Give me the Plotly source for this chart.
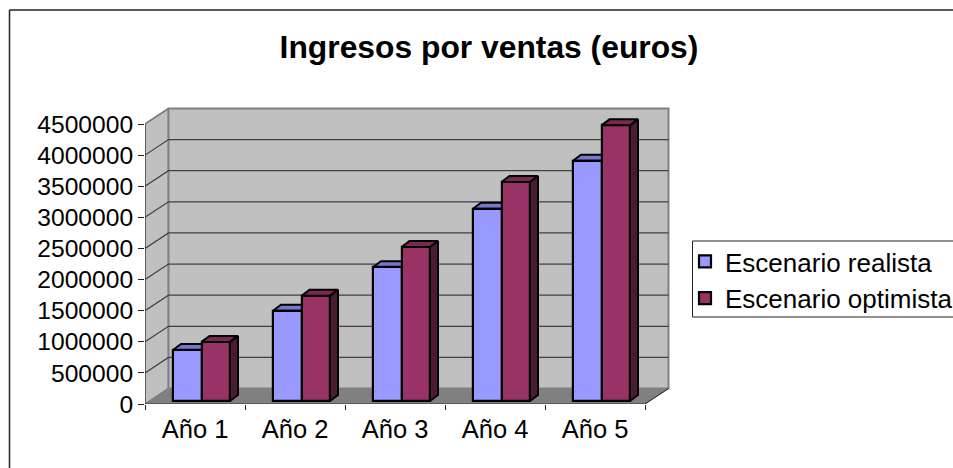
import plotly.graph_objects as go

categories = ["Año 1", "Año 2", "Año 3", "Año 4", "Año 5"]
realista = [820000, 1450000, 2150000, 3090000, 3860000]
optimista = [950000, 1690000, 2475000, 3520000, 4430000]
y_ticks = [0, 500000, 1000000, 1500000, 2000000, 2500000, 3000000, 3500000, 4000000, 4500000]

W, H = 953, 468
LEFT, BOTTOM, PX_CAT, PX_MAX = 145, 404, 100, 280
YMAX = y_ticks[-1]
u = YMAX / PX_MAX            # value units per pixel
WALL_DX, WALL_DY = 0.235, 15.5 * u
BAR_DX, BAR_DY = 0.08, 6 * u
BAR_BASE = 3 * u
BAR_W, BAR_START = 0.285, 0.28
N = len(categories)
x_top = 5.4
y_top = 310 * u

fig = go.Figure()


def poly(xs, ys, fill, line, width=1, yaxis="y"):
    fig.add_trace(go.Scatter(x=xs, y=ys, mode="lines", fill="toself", fillcolor=fill,
                             line=dict(color=line, width=width), hoverinfo="skip",
                             showlegend=False, yaxis=yaxis, cliponaxis=False))


def seg(xs, ys, color, width=1):
    fig.add_trace(go.Scatter(x=xs, y=ys, mode="lines", line=dict(color=color, width=width),
                             hoverinfo="skip", showlegend=False, cliponaxis=False))


# walls and floor
poly([0, WALL_DX, WALL_DX, 0, 0], [0, WALL_DY, YMAX + WALL_DY, YMAX, 0], "#C0C0C0", "#808080", 1.5)
poly([WALL_DX, N + WALL_DX, N + WALL_DX, WALL_DX, WALL_DX],
     [WALL_DY, WALL_DY, YMAX + WALL_DY, YMAX + WALL_DY, WALL_DY], "#C0C0C0", "#808080", 2)
poly([0, N, N + WALL_DX, WALL_DX, 0], [0, 0, WALL_DY, WALL_DY, 0], "#808080", "#808080", 1)
for t in y_ticks[1:-1]:
    seg([0, WALL_DX, N + WALL_DX], [t, t + WALL_DY, t + WALL_DY], "#404040", 1.2)
seg([0, WALL_DX], [y_ticks[-1], y_ticks[-1] + WALL_DY], "#808080", 1.2)
seg([N, N + WALL_DX], [0, WALL_DY], "#222222", 1)
seg([0, 0], [0, YMAX], "#333333", 1)
seg([0, N], [0, 0], "#333333", 1)

# depth faces of the back-most series
for i, v in enumerate(realista):
    x0 = i + BAR_START
    x1 = x0 + BAR_W
    t = BAR_BASE + v
    poly([x0, x1, x1 + BAR_DX, x0 + BAR_DX, x0], [t, t, t + BAR_DY, t + BAR_DY, t], "#7777CC", "#000000", 2)

# fronts, on an overlaid y axis so they sit above the faces above
cx = [i for i in range(N)]
fig.add_trace(go.Bar(x=[i + BAR_START + BAR_W / 2 for i in cx], y=realista, base=BAR_BASE, width=BAR_W,
                     marker=dict(color="#9999FF", line=dict(color="#000000", width=2.2)),
                     name="Escenario realista", yaxis="y2", legendgroup="a"))
fig.add_trace(go.Bar(x=[i + BAR_START + BAR_W * 1.5 for i in cx], y=optimista, base=BAR_BASE, width=BAR_W,
                     marker=dict(color="#993366", line=dict(color="#000000", width=2.2)),
                     name="Escenario optimista", yaxis="y2", legendgroup="b"))
for i, v in enumerate(optimista):
    x0 = i + BAR_START + BAR_W
    x1 = x0 + BAR_W
    t = BAR_BASE + v
    poly([x0, x1, x1 + BAR_DX, x0 + BAR_DX, x0], [t, t, t + BAR_DY, t + BAR_DY, t], "#7A2952", "#000000", 2, "y2")
    poly([x1, x1 + BAR_DX, x1 + BAR_DX, x1, x1],
         [BAR_BASE, BAR_BASE + BAR_DY, t + BAR_DY, t, BAR_BASE], "#4D1A33", "#000000", 2, "y2")

FONT = "Liberation Sans"
fig.update_layout(
    width=W, height=H, autosize=False,
    margin=dict(l=0, r=0, t=0, b=0, pad=0, autoexpand=False),
    paper_bgcolor="#FFFFFF", plot_bgcolor="#FFFFFF",
    barmode="overlay", bargap=0,
    font=dict(family=FONT, size=22, color="#000000"),
    title=dict(text="<b>Ingresos por ventas (euros)</b>", x=489 / W, xanchor="center",
               y=1 - 47 / H, yanchor="middle", font=dict(family=FONT, size=31.8, color="#000000")),
    xaxis=dict(domain=[LEFT / W, (LEFT + x_top * PX_CAT) / W], range=[0, x_top],
               showgrid=False, zeroline=False, showline=False,
               tickmode="array", tickvals=[i + 0.5 for i in range(N)], ticktext=categories,
               ticks="", ticklabelstandoff=7, tickfont=dict(family=FONT, size=25.5),
               minor=dict(tickmode="array", tickvals=list(range(N + 1)), ticks="outside",
                          ticklen=5, tickwidth=1, tickcolor="#222222", showgrid=False)),
    yaxis=dict(domain=[(H - BOTTOM) / H, (H - BOTTOM + y_top / u) / H], range=[0, y_top],
               showgrid=False, zeroline=False, showline=False,
               tickmode="array", tickvals=y_ticks, ticktext=[str(t) for t in y_ticks],
               ticks="outside", ticklen=6, tickwidth=1, tickcolor="#222222",
               tickfont=dict(family=FONT, size=24.6)),
    yaxis2=dict(overlaying="y", range=[0, y_top], visible=False),
    legend=dict(x=692 / W, xanchor="left", y=1 - 238 / H, yanchor="top",
                bgcolor="rgba(0,0,0,0)", borderwidth=0,
                tracegroupgap=4, traceorder="normal", indentation=-7,
                font=dict(family=FONT, size=26, color="#000000")),
    shapes=[
        dict(type="line", xref="paper", yref="paper", x0=9.5 / W, x1=9.5 / W, y0=0, y1=1 - 10 / H,
             line=dict(color="#222222", width=1.5)),
        dict(type="line", xref="paper", yref="paper", x0=9.5 / W, x1=1, y0=1 - 10 / H, y1=1 - 10 / H,
             line=dict(color="#222222", width=1.5)),
        dict(type="rect", xref="paper", yref="paper", x0=692.5 / W, x1=1.01, y0=1 - 317 / H, y1=1 - 241 / H,
             line=dict(color="#222222", width=1), fillcolor="rgba(0,0,0,0)"),
    ],
)

fig.write_html("out.html", config=dict(displayModeBar=False),
               post_script="document.body.style.margin='0';document.body.style.overflow='hidden';")
